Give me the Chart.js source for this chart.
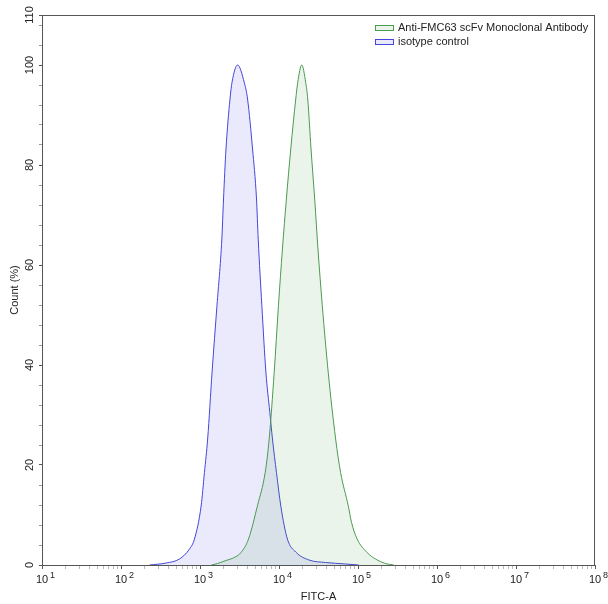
<!DOCTYPE html>
<html lang="en">
<head>
  <meta charset="UTF-8">
  <title>FITC-A histogram</title>
  <script src="https://cdn.jsdelivr.net/npm/chart.js"></script>
  <style>
    html, body { margin: 0; padding: 0; background: #fff; }
    #wrap { width: 608px; height: 604px; }
  </style>
</head>
<body>
  <div id="wrap"><canvas id="histo"></canvas></div>
  <script>
    // series names
    const seriesNames = ['Anti-FMC63 scFv Monoclonal Antibody', 'isotype control'];

    // Anti-FMC63 (green) : FITC-A value / count (%)
    const fmc63Fitc = [1400, 1675, 2133, 2716, 3302, 4112, 5345, 6683, 7510, 8690, 9843, 11050, 12400, 14090,
      16290, 17260, 19400, 21780, 23100, 25430, 28300, 31130, 35320, 42000, 52100, 60230, 75150, 82850,
      97500, 130300, 166300, 222300, 283000];
    const fmc63Count = [0, 0.3, 0.9, 1.5, 2.5, 5.2, 11.9, 18.5, 25.2, 38.5, 51.9, 63.2, 73.2, 83.2,
      93.2, 96.5, 100, 96.5, 93.2, 83.2, 73.2, 63.2, 51.9, 38.5, 25.2, 18.5, 11.9, 8.5,
      5.2, 2.5, 1.2, 0.3, 0];

    // isotype control (blue)
    const isoFitc = [230, 374, 550, 736, 851, 1033, 1138, 1250, 1422, 1640, 1890, 1985, 2133, 2397, 2541,
      2992, 3634, 4000, 4627, 5192, 5455, 6067, 6823, 7660, 8263, 9290, 10540, 12770, 16290, 23990,
      38980, 69650, 102000];
    const isoCount = [0, 0.4, 1.2, 3.2, 5.2, 11.8, 18.5, 25.2, 38.6, 51.9, 65.2, 73.2, 83.2, 93.2, 96.5,
      100, 96.5, 93.2, 83.2, 73.2, 65.2, 51.9, 38.6, 30.5, 25.2, 18.5, 11.8, 5.2, 2.6, 1.0,
      0.5, 0.2, 0];

    // axis ticks
    const xDecades = [1, 2, 3, 4, 5, 6, 7, 8];
    const yLabelled = [0, 20, 40, 60, 80, 100, 110];

    const toPoints = (xs, ys) => xs.map((x, i) => ({ x: x, y: ys[i] }));
    const isDecade = v => Math.abs(Math.log10(v) - Math.round(Math.log10(v))) < 1e-6;
    const FONT = '"Liberation Sans", Arial, sans-serif';

    Chart.defaults.font.family = FONT;
    Chart.defaults.font.size = 11;
    Chart.defaults.color = '#222';

    // frame round the plot area
    const frame = {
      id: 'frame',
      afterDraw(chart) {
        const a = chart.chartArea, c = chart.ctx;
        c.save();
        c.strokeStyle = '#555';
        c.lineWidth = 1;
        c.strokeRect(Math.round(a.left) + 0.5, Math.round(a.top) + 0.5,
          Math.round(a.right - a.left) - 1, Math.round(a.bottom - a.top));
        c.restore();
      }
    };

    // "10" with a raised exponent under each decade tick
    const powerLabels = {
      id: 'powerLabels',
      afterDraw(chart) {
        const xs = chart.scales.x, c = chart.ctx;
        const base = xs.top + 18;
        c.save();
        c.fillStyle = '#222';
        c.textBaseline = 'alphabetic';
        xDecades.forEach(d => {
          const px = xs.getPixelForValue(Math.pow(10, d));
          c.font = '11px ' + FONT;
          const w = c.measureText('10').width;
          c.textAlign = 'center';
          c.fillText('10', px, base);
          c.font = '9px ' + FONT;
          c.textAlign = 'left';
          c.fillText(String(d), px + w / 2 + 2, base - 5);
        });
        c.restore();
      }
    };

    // legend inside top right corner
    const insideLegend = {
      id: 'insideLegend',
      afterDraw(chart) {
        const a = chart.chartArea, c = chart.ctx;
        c.save();
        c.font = '11px ' + FONT;
        c.textBaseline = 'middle';
        chart.data.datasets.forEach((ds, i) => {
          const x = Math.round(a.right - 220), y = Math.round(a.top + 13 + i * 13.5);
          c.fillStyle = ds.backgroundColor;
          c.fillRect(x, y - 2.5, 18, 5);
          c.strokeStyle = ds.borderColor;
          c.lineWidth = 1;
          c.strokeRect(x + 0.5, y - 2.5, 18, 5);
          c.fillStyle = '#222';
          c.fillText(ds.label, x + 23, y);
        });
        c.restore();
      }
    };

    new Chart(document.getElementById('histo'), {
      type: 'line',
      data: {
        datasets: [
          {
            label: seriesNames[0],
            data: toPoints(fmc63Fitc, fmc63Count),
            borderColor: '#4a9a50',
            backgroundColor: 'rgba(60,150,60,0.10)',
            borderWidth: 1,
            fill: 'origin',
            pointRadius: 0,
            cubicInterpolationMode: 'monotone'
          },
          {
            label: seriesNames[1],
            data: toPoints(isoFitc, isoCount),
            borderColor: '#4646d8',
            backgroundColor: 'rgba(60,60,230,0.11)',
            borderWidth: 1,
            fill: 'origin',
            pointRadius: 0,
            cubicInterpolationMode: 'monotone'
          }
        ]
      },
      options: {
        responsive: true,
        maintainAspectRatio: false,
        animation: false,
        layout: { padding: { top: 15, right: 13, left: 0, bottom: 0 } },
        plugins: {
          legend: { display: false },
          tooltip: { enabled: false }
        },
        scales: {
          x: {
            type: 'logarithmic',
            min: 10,
            max: 1e8,
            afterBuildTicks: scale => {
              const t = [];
              xDecades.forEach(d => {
                if (d === 8) { t.push({ value: 1e8 }); return; }
                for (let m = 1; m < 10; m++) t.push({ value: m * Math.pow(10, d) });
              });
              scale.ticks = t;
            },
            afterFit: scale => { scale.height = 39; },
            grid: {
              drawOnChartArea: false,
              tickLength: 4,
              tickColor: ctx => (ctx.tick && isDecade(ctx.tick.value)) ? '#555' : '#bbb'
            },
            border: { color: '#555' },
            ticks: {
              autoSkip: false,
              maxRotation: 0,
              callback: () => ''
            },
            title: {
              display: true,
              text: 'FITC-A',
              font: { size: 11 },
              padding: { top: 0, bottom: 0 }
            }
          },
          y: {
            min: 0,
            max: 110,
            afterBuildTicks: scale => {
              const t = [];
              for (let v = 0; v <= 108; v += 4) t.push({ value: v });
              t.push({ value: 110 });
              scale.ticks = t;
            },
            afterFit: scale => { scale.width = 42; },
            grid: {
              drawOnChartArea: false,
              tickLength: 3,
              tickColor: ctx => (ctx.tick && yLabelled.includes(ctx.tick.value)) ? '#555' : '#999'
            },
            border: { color: '#555' },
            ticks: {
              autoSkip: false,
              minRotation: 90,
              maxRotation: 90,
              crossAlign: 'center',
              padding: 0,
              font: { size: 11 },
              color: '#222',
              callback: v => yLabelled.includes(v) ? String(v) : ''
            },
            title: {
              display: true,
              text: 'Count (%)',
              font: { size: 11 },
              padding: { top: 8, bottom: 0 }
            }
          }
        }
      },
      plugins: [frame, powerLabels, insideLegend]
    });
  </script>
</body>
</html>
